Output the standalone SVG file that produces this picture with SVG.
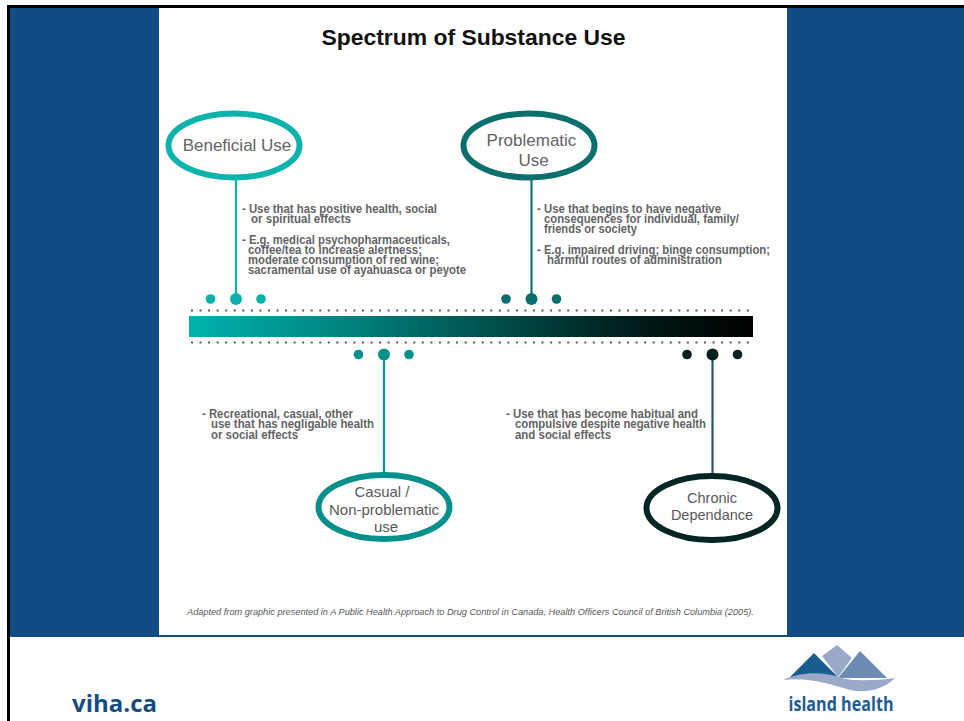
<svg xmlns="http://www.w3.org/2000/svg" width="964" height="721" viewBox="0 0 964 721">
<defs>
<linearGradient id="bar" x1="0" x2="1" y1="0" y2="0">
<stop offset="0" stop-color="#00b2ad"/><stop offset="0.3" stop-color="#007f7b"/><stop offset="0.55" stop-color="#004d49"/><stop offset="0.8" stop-color="#001a18"/><stop offset="1" stop-color="#000"/>
</linearGradient>
</defs>
<style>
text{font-family:"Liberation Sans",Arial,sans-serif}
.d{font-size:12.5px;font-weight:700;fill:#636466}
.l{font-size:17px;fill:#636466;text-anchor:middle}
.m{font-size:15px;fill:#58595b;text-anchor:middle}
.n{font-size:14.500px;fill:#58595b;text-anchor:middle}
.dots{stroke:#58595b;stroke-width:2;stroke-dasharray:2 6.55;fill:none}
.ring{fill:#fff;stroke-width:6}
</style>
<rect width="964" height="721" fill="#fff"/>
<g id="background">
<rect x="7" y="5" width="957" height="632" fill="#114c84"/>
<rect x="159" y="8" width="628" height="627" fill="#fff"/>
<path d="M8.500 721V6.500H964" fill="none" stroke="#000" stroke-width="3"/>
</g>
<text x="473.500" y="45" text-anchor="middle" font-size="22.900" font-weight="700" fill="#111">Spectrum of Substance Use</text>
<g id="spectrum">
<path class="dots" d="M191 310.500H752M191 342.500H752"/>
<rect x="189" y="316" width="564" height="21" fill="url(#bar)"/>
</g>
<g id="connectors" stroke-width="2.200" fill="none">
<path d="M236 178V299" stroke="#12b0ab"/>
<path d="M531.500 178V299" stroke="#0f7572"/>
<path d="M384 354V476" stroke="#0b8f8b"/>
<path d="M712.500 354V476" stroke="#2c5a5a"/>
</g>
<g id="beneficial-use">
<circle cx="210.500" cy="299" r="4.800" fill="#0bb0aa"/><circle cx="236" cy="299" r="6" fill="#0bb0aa"/><circle cx="261" cy="299" r="4.800" fill="#0bb0aa"/>
<ellipse class="ring" cx="234" cy="145.500" rx="65.500" ry="32" stroke="#0cb2ac"/>
<text class="l" x="237" y="151">Beneficial Use</text>
<text class="d" x="242" y="213" textLength="195" lengthAdjust="spacingAndGlyphs">- Use that has positive health, social</text>
<text class="d" x="251" y="223" textLength="100" lengthAdjust="spacingAndGlyphs">or spiritual effects</text>
<text class="d" x="242" y="244" textLength="208" lengthAdjust="spacingAndGlyphs">- E.g. medical psychopharmaceuticals,</text>
<text class="d" x="248" y="254" textLength="174" lengthAdjust="spacingAndGlyphs">coffee/tea to increase alertness;</text>
<text class="d" x="248" y="264" textLength="191" lengthAdjust="spacingAndGlyphs">moderate consumption of red wine;</text>
<text class="d" x="248" y="274" textLength="218" lengthAdjust="spacingAndGlyphs">sacramental use of ayahuasca or peyote</text>
</g>
<g id="problematic-use">
<circle cx="506" cy="299" r="4.800" fill="#0a6f6c"/><circle cx="531.500" cy="299" r="6" fill="#0a6f6c"/><circle cx="556.500" cy="299" r="4.800" fill="#0a6f6c"/>
<ellipse class="ring" cx="529" cy="145.500" rx="65.500" ry="32" stroke="#0b6f6c"/>
<text class="l" x="531.500" y="146">Problematic</text>
<text class="l" x="533.500" y="166">Use</text>
<text class="d" x="537" y="213" textLength="184" lengthAdjust="spacingAndGlyphs">- Use that begins to have negative</text>
<text class="d" x="544" y="223" textLength="195" lengthAdjust="spacingAndGlyphs">consequences for individual, family/</text>
<text class="d" x="544" y="233" textLength="93" lengthAdjust="spacingAndGlyphs">friends or society</text>
<text class="d" x="537" y="254" textLength="233" lengthAdjust="spacingAndGlyphs">- E.g. impaired driving; binge consumption;</text>
<text class="d" x="547" y="264" textLength="175" lengthAdjust="spacingAndGlyphs">harmful routes of administration</text>
</g>
<g id="casual-use">
<circle cx="358.500" cy="354.500" r="4.800" fill="#078f8b"/><circle cx="384" cy="354.500" r="6" fill="#078f8b"/><circle cx="409" cy="354.500" r="4.800" fill="#078f8b"/>
<ellipse class="ring" cx="384" cy="507" rx="65.500" ry="32" stroke="#078f8b"/>
<text class="m" x="382" y="497">Casual /</text>
<text class="m" x="384" y="515">Non-problematic</text>
<text class="m" x="386" y="532">use</text>
<text class="d" x="202" y="418" textLength="151" lengthAdjust="spacingAndGlyphs">- Recreational, casual, other</text>
<text class="d" x="211" y="428" textLength="163" lengthAdjust="spacingAndGlyphs">use that has negligable health</text>
<text class="d" x="211" y="439" textLength="87" lengthAdjust="spacingAndGlyphs">or social effects</text>
</g>
<g id="chronic-dependance">
<circle cx="687" cy="354.500" r="4.800" fill="#04201f"/><circle cx="712.500" cy="354.500" r="6" fill="#04201f"/><circle cx="737.500" cy="354.500" r="4.800" fill="#04201f"/>
<ellipse class="ring" cx="712" cy="508" rx="65.500" ry="32" stroke="#032524"/>
<text class="n" x="712" y="503">Chronic</text>
<text class="n" x="712" y="520">Dependance</text>
<text class="d" x="506" y="418" textLength="192" lengthAdjust="spacingAndGlyphs">- Use that has become habitual and</text>
<text class="d" x="515" y="428" textLength="191" lengthAdjust="spacingAndGlyphs">compulsive despite negative health</text>
<text class="d" x="515" y="439" textLength="96" lengthAdjust="spacingAndGlyphs">and social effects</text>
</g>
<text x="187" y="615" font-size="9.200" font-style="italic" fill="#58595b">Adapted from graphic presented in A Public Health Approach to Drug Control in Canada, Health Officers Council of British Columbia (2005).</text>
<text x="72" y="712" font-size="24" font-weight="700" fill="#114c84" style="font-family:'Open Sans',sans-serif" textLength="85">viha.ca</text>
<g id="logo">
<path d="M822 656L837 645 852 658 838 677Z" fill="#9aa9c8"/>
<path d="M814 653L838 677H790Z" fill="#175e8e"/>
<path d="M860 651L887 678H838Z" fill="#6d8cb3"/>
<path d="M783 680C800 672 822 671 842 678C850 681 875 681 895 678C885 688 868 694 850 690C830 684 808 677 783 680Z" fill="#9aa9c8"/>
<text x="841" y="711" text-anchor="middle" font-size="19" font-weight="700" fill="#1c5c8e" style="font-family:'Open Sans',sans-serif" textLength="105" lengthAdjust="spacingAndGlyphs">island health</text>
</g>
</svg>
